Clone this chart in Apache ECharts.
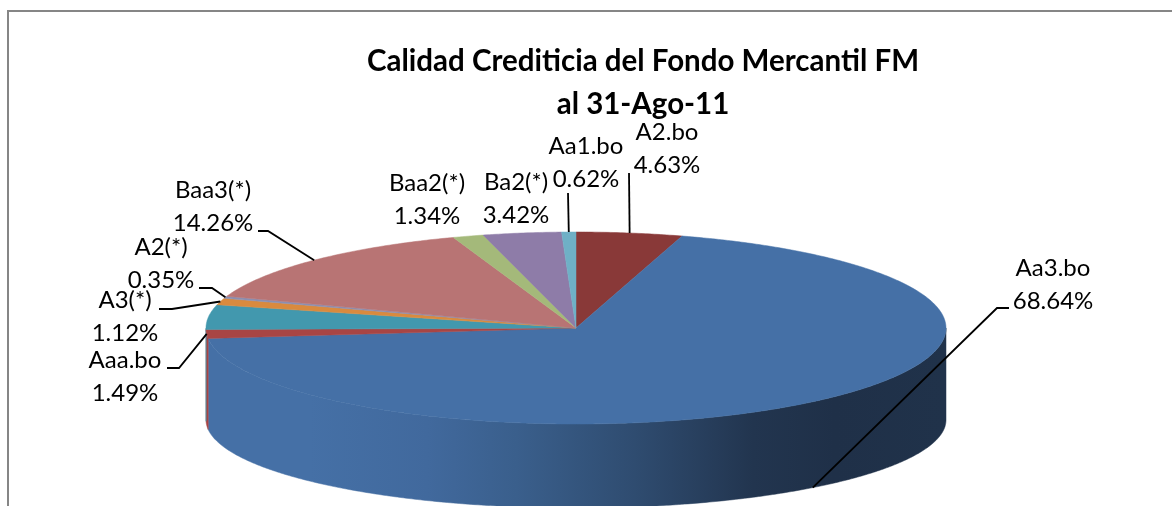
<!DOCTYPE html>
<html>
<head>
<meta charset="utf-8">
<title>Calidad Crediticia</title>
<script src="https://cdn.jsdelivr.net/npm/echarts@6/dist/echarts.min.js"></script>
<style>
html, body { margin: 0; padding: 0; background: #fff; }
#main { width: 1172px; height: 506px; }
</style>
</head>
<body>
<div id="main"></div>
<script>
// slices, clockwise from 12 o'clock (the teal one has no label in the picture)
var names = ['A2.bo', 'Aa3.bo', 'Aaa.bo', '', 'A3(*)', 'A2(*)', 'Baa3(*)', 'Baa2(*)', 'Ba2(*)', 'Aa1.bo'];
var values = [4.63, 68.64, 1.49, 4.13, 1.12, 0.35, 14.26, 1.34, 3.42, 0.62];
var colors = ['#893938', '#4570a6', '#a84544', '#4298ae', '#d98a3e', '#8a8fb2', '#b87474', '#a4b97a', '#8e7ca8', '#6fb0c6'];

var titleText = 'Calidad Crediticia del Fondo Mercantil FM\nal 31-Ago-11';

// disc geometry: the lower rim is a bit flatter than the top face
var disc = { cx: 576, cy: 328, rx: 370, ry: 96, cyLow: 420, ryLow: 88 };

// where each label sits, and the start/elbow of its leader line
var labelLayout = [
    { x: 667, y: 148.5, from: [629, 173] },
    { x: 1053, y: 284.5, from: [1009, 308], elbow: [997, 308], low: true },
    { x: 125, y: 376.5, from: [167, 368], elbow: [179, 368] },
    null,
    { x: 125, y: 317, from: [159, 309], elbow: [172, 309] },
    { x: 161, y: 264, from: [199, 288], elbow: [212, 288] },
    { x: 213, y: 207, from: [258, 231], elbow: [268, 231] },
    { x: 427, y: 200 },
    { x: 516, y: 198.5 },
    { x: 586, y: 163, from: [568, 193] }
];

var total = values.reduce(function (a, b) { return a + b; }, 0);

function pointAt(deg, cy, ry) {
    var r = deg * Math.PI / 180;
    return [disc.cx + disc.rx * Math.sin(r), cy - ry * Math.cos(r)];
}

function arc(a0, a1, cy, ry) {
    var pts = [];
    var n = Math.max(2, Math.ceil((a1 - a0) * 2));
    for (var i = 0; i <= n; i++) {
        pts.push(pointAt(a0 + (a1 - a0) * i / n, cy, ry));
    }
    return pts;
}

var sideGradient = new echarts.graphic.LinearGradient(206, 0, 945, 0, [
    { offset: 0, color: '#4570a6' },
    { offset: 0.14, color: '#4570a6' },
    { offset: 0.3, color: '#41699d' },
    { offset: 0.42, color: '#3a5f8c' },
    { offset: 0.58, color: '#2f4c70' },
    { offset: 0.74, color: '#22354f' },
    { offset: 0.85, color: '#1f3048' },
    { offset: 1, color: '#20324a' }
], true);

function renderSlice(params, api) {
    var i = params.dataIndex;
    var before = 0;
    for (var k = 0; k < i; k++) before += values[k];
    var a0 = before / total * 360;
    var a1 = a0 + api.value(0) / total * 360;
    var mid = (a0 + a1) / 2;
    var children = [];

    // side wall, only the front half of the disc shows
    var s0 = Math.max(a0, 90), s1 = Math.min(a1, 270);
    if (s1 > s0) {
        var fill = i === 1 ? sideGradient : colors[i];
        children.push({
            type: 'polygon',
            z2: 1,
            shape: { points: arc(s0, s1, disc.cy, disc.ry).concat(arc(s0, s1, disc.cyLow, disc.ryLow).reverse()) },
            style: { fill: fill, stroke: fill, lineWidth: 0.5 }
        });
    }

    // top face
    children.push({
        type: 'polygon',
        z2: 2,
        shape: { points: [[disc.cx, disc.cy]].concat(arc(a0, a1, disc.cy, disc.ry)) },
        style: { fill: colors[i], stroke: colors[i], lineWidth: 0.5 }
    });

    var lay = labelLayout[i];
    if (lay) {
        children.push({
            type: 'text',
            z2: 5,
            style: {
                x: lay.x,
                y: lay.y,
                text: names[i] + '\n' + api.value(0).toFixed(2) + '%',
                fill: '#000',
                fontFamily: 'Lato',
                fontSize: 24,
                lineHeight: 33,
                align: 'center',
                verticalAlign: 'middle'
            }
        });
        if (lay.from) {
            var anchor = lay.low ? pointAt(mid, disc.cyLow, disc.ryLow) : pointAt(mid, disc.cy, disc.ry);
            var line = [lay.from];
            if (lay.elbow) line.push(lay.elbow);
            line.push(anchor);
            children.push({
                type: 'polyline',
                z2: 4,
                shape: { points: line },
                style: { fill: null, stroke: '#000', lineWidth: 1.8 }
            });
        }
    }
    return { type: 'group', children: children };
}

var chart = echarts.init(document.getElementById('main'));
chart.setOption({
    animation: false,
    backgroundColor: '#fff',
    title: {
        text: titleText,
        left: 638,
        top: 35,
        textAlign: 'center',
        textStyle: { fontFamily: 'Lato', fontWeight: 'bold', fontSize: 29.5, lineHeight: 43, color: '#000' }
    },
    graphic: [
        { type: 'rect', shape: { x: 7, y: 10, width: 1165, height: 2 }, style: { fill: '#868686' } },
        { type: 'rect', shape: { x: 7, y: 10, width: 2, height: 496 }, style: { fill: '#868686' } }
    ],
    series: [{
        type: 'custom',
        coordinateSystem: 'none',
        silent: true,
        renderItem: renderSlice,
        data: values.map(function (v) { return [v]; })
    }]
});
</script>
</body>
</html>
